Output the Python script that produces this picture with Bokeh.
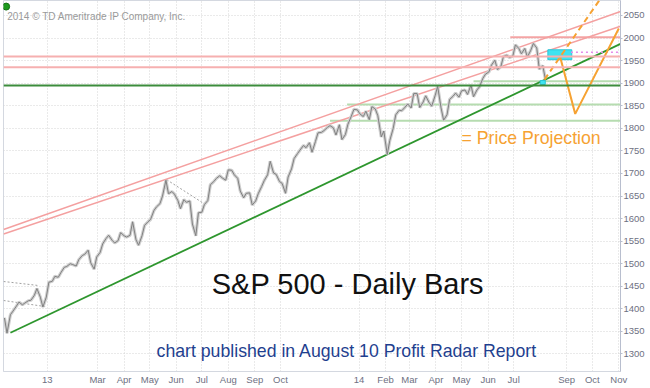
import pandas as pd
from bokeh.plotting import figure
from bokeh.models import Range1d, FixedTicker, Label, Span, ColumnDataSource
from bokeh.embed import file_html
from bokeh.resources import INLINE

# ---------------- data ----------------
# S&P 500 levels, sampled Monday / Thursday of each week (week start listed)
week_starts = pd.date_range("2012-11-12", periods=91, freq="7D")
weekly_pairs = [
    (1380, 1346), (1387, 1395), (1406, 1415), (1409, 1413), (1418, 1419),
    (1430, 1445), (1426, 1404), (1426, 1459),
    (1461, 1472), (1470, 1480), (1492, 1494), (1500, 1498), (1495, 1509),
    (1518, 1521), (1530, 1502), (1488, 1515), (1525, 1544), (1556, 1563),
    (1552, 1546), (1551, 1569), (1562, 1559), (1563, 1593), (1553, 1541),
    (1562, 1585), (1593, 1598), (1618, 1626), (1633, 1650), (1685, 1655),
    (1660, 1654), (1640, 1622), (1642, 1636), (1639, 1588), (1562, 1613),
    (1614, 1631), (1640, 1675), (1682, 1689), (1695, 1690), (1685, 1708),
    (1707, 1697), (1689, 1661), (1646, 1656), (1657, 1630), (1639, 1655),
    (1671, 1684), (1697, 1727), (1701, 1698), (1682, 1678), (1656, 1692),
    (1710, 1733), (1744, 1752), (1762, 1757), (1768, 1747), (1771, 1790),
    (1791, 1795), (1802, 1806), (1801, 1785), (1808, 1775), (1786, 1809),
    (1827, 1842), (1841, 1832),
    (1826, 1838), (1819, 1848), (1843, 1828), (1781, 1794), (1742, 1773),
    (1800, 1830), (1840, 1839), (1847, 1854), (1845, 1877), (1877, 1846),
    (1858, 1872), (1857, 1849), (1872, 1893), (1845, 1818), (1830, 1864),
    (1871, 1878), (1869, 1883), (1885, 1875), (1896, 1870), (1885, 1892),
    (1911, 1920), (1925, 1940), (1951, 1930), (1937, 1959), (1962, 1957),
    (1960, 1985), (1977, 1965), (1977, 1958), (1973, 1988), (1978, 1931),
    (1939, 1910),
]

tick_dates = ["2013-01-01", "2013-03-01", "2013-04-01", "2013-05-01", "2013-06-01",
              "2013-07-01", "2013-08-01", "2013-09-01", "2013-10-01",
              "2014-01-01", "2014-02-01", "2014-03-01", "2014-04-01", "2014-05-01",
              "2014-06-01", "2014-07-01", "2014-09-01", "2014-10-01", "2014-11-01"]
tick_labels = ["13", "Mar", "Apr", "May", "Jun", "Jul", "Aug", "Sep", "Oct",
               "14", "Feb", "Mar", "Apr", "May", "Jun", "Jul", "Sep", "Oct", "Nov"]
y_ticks = [1300, 1350, 1400, 1450, 1500, 1550, 1600, 1650, 1700, 1750,
           1800, 1850, 1900, 1950, 2000, 2050]

# full-width horizontal levels
pink_levels = [1959, 1935.5]
green_level = 1895
# partial horizontal levels (start date, level), running to the right edge
pink_partial = [("2014-06-27", 2001.5)]
lightgreen_partial = [("2014-05-15", 1904.4), ("2013-12-18", 1853), ("2013-11-28", 1817)]
# trend lines (start date, start value, end date, end value)
channel_lines = [("2012-11-11", 1576, "2014-11-03", 2059),
                 ("2012-11-11", 1566, "2014-11-03", 2026)]
green_trend = ("2012-11-19", 1347, "2014-11-03", 1987)
gray_dashed = [("2012-11-11", 1460.6, "2012-12-22", 1451.7),
               ("2012-11-11", 1418.5, "2012-12-30", 1405),
               ("2013-05-21", 1686, "2013-07-07", 1629)]
# projection
target_box = ("2014-08-10", "2014-09-07", 1952, 1974)
small_box = ("2014-08-01", "2014-08-07", 1897, 1906)
magenta_level = ("2014-09-06", 1968.7)
proj_dashed_dates = ["2014-08-06", "2014-10-09"]
proj_dashed_vals = [1908, 2083]
proj_dates = ["2014-08-24", "2014-09-11", "2014-11-01"]
proj_vals = [1961, 1832, 2021]

# ---------------- build ----------------
dates, closes = [], []
for ws, (mon, thu) in zip(week_starts, weekly_pairs):
    dates += [ws, ws + pd.Timedelta(days=3)]
    closes += [mon, thu]

T = pd.Timestamp
X_START = T("2013-01-01") - pd.Timedelta(days=51.1)
X_END = T("2013-01-01") + pd.Timedelta(days=671)


def ms(d):
    return T(d).value / 1e6


p = figure(width=650, height=388, x_axis_type="datetime", y_axis_location="right",
           x_range=Range1d(X_START, X_END), y_range=Range1d(1261.2, 2083.2),
           output_backend="svg", toolbar_location=None,
           min_border_left=3, min_border_top=0, min_border_right=30, min_border_bottom=17)
p.background_fill_color = "white"
p.border_fill_color = "white"
p.outline_line_color = "#d4d8e0"

# axes
p.yaxis.ticker = FixedTicker(ticks=y_ticks)
p.yaxis.major_label_text_font = "Liberation Sans"
p.yaxis.major_label_text_font_size = "9.5px"
p.yaxis.major_label_text_color = "#6e7082"
p.yaxis.axis_line_color = "#b8bece"
p.yaxis.major_tick_out = 2
p.yaxis.major_tick_in = 0
p.yaxis.major_tick_line_color = "#b8bece"
p.yaxis.minor_tick_line_color = None
p.yaxis.minor_tick_out = 0
p.yaxis.major_label_standoff = 1

xt = [ms(d) for d in tick_dates]
p.xaxis.ticker = FixedTicker(ticks=xt)
p.xaxis.major_label_overrides = {t: l for t, l in zip(xt, tick_labels)}
p.xaxis.major_label_text_align = "left"
p.xaxis.major_label_text_font = "Liberation Sans"
p.xaxis.major_label_text_font_size = "9.5px"
p.xaxis.major_label_text_color = "#6e7082"
p.xaxis.axis_line_color = "#d4d8e0"
p.xaxis.major_tick_line_color = None
p.xaxis.major_tick_out = 0
p.xaxis.minor_tick_out = 0
p.xaxis.minor_tick_line_color = None
p.xaxis.major_label_standoff = 2

for g in (p.xgrid, p.ygrid):
    g.grid_line_color = "#d4d4d4"
    g.grid_line_dash = "1 2"

# horizontal levels
for lv in pink_levels:
    p.add_layout(Span(location=lv, dimension="width", line_color="#f6b0b0", line_width=2))
p.add_layout(Span(location=green_level, dimension="width", line_color="#3c8c3c", line_width=2))
for d, lv in pink_partial:
    p.segment(x0=[T(d)], y0=[lv], x1=[X_END], y1=[lv], line_color="#f4a4a4", line_width=2)
for d, lv in lightgreen_partial:
    p.segment(x0=[T(d)], y0=[lv], x1=[X_END], y1=[lv], line_color="#b6dcb0", line_width=2)

# trend lines
for d0, v0, d1, v1 in channel_lines:
    p.segment(x0=[T(d0)], y0=[v0], x1=[T(d1)], y1=[v1], line_color="#f4a0a0", line_width=1.5)
d0, v0, d1, v1 = green_trend
p.segment(x0=[T(d0)], y0=[v0], x1=[T(d1)], y1=[v1], line_color="#2e962e", line_width=1.8)
for d0, v0, d1, v1 in gray_dashed:
    p.segment(x0=[T(d0)], y0=[v0], x1=[T(d1)], y1=[v1], line_color="#a0a0a0",
              line_width=1, line_dash="2 2")

# price series (soft band + darker core to resemble dense daily bars)
src = ColumnDataSource(dict(date=dates, close=closes))
p.line("date", "close", source=src, line_color="#cfcfcf", line_width=3.2)
p.line("date", "close", source=src, line_color="#808080", line_width=1)

# projection boxes and lines
l, r, b, t = target_box
p.quad(left=[T(l)], right=[T(r)], bottom=[b], top=[t], fill_color="#3ee3f1",
       line_color="#2ac6d8", line_width=1)
l, r, b, t = small_box
p.quad(left=[T(l)], right=[T(r)], bottom=[b], top=[t], fill_color="#3ee3f1",
       line_color="#2ac6d8", line_width=1)
d, lv = magenta_level
p.segment(x0=[T(d)], y0=[lv], x1=[X_END], y1=[lv], line_color="#e68ae8",
          line_width=1.5, line_dash="2 3")
p.line([T(d) for d in proj_dashed_dates], proj_dashed_vals, line_color="#f6a232",
       line_width=2, line_dash="6 4")
p.line([T(d) for d in proj_dates], proj_vals, line_color="#f6a232", line_width=2)

# texts
p.scatter([T("2012-11-14")], [2069.7], size=7, fill_color="#1e9a1e", line_color="#137013")
p.add_layout(Label(x=ms(T("2013-01-01") - pd.Timedelta(days=46.8)), y=2048.4,
                   text="2014 \u00a9 TD Ameritrade IP Company, Inc.",
                   text_font="Liberation Sans", text_font_size="10px",
                   text_color="#9a9a9a", text_baseline="alphabetic"))
p.add_layout(Label(x=ms("2013-12-19"), y=1454, text="S&P 500 - Daily Bars",
                   text_font="Liberation Sans", text_font_size="29px",
                   text_color="#111111", text_align="center", text_baseline="alphabetic"))
p.add_layout(Label(x=ms("2013-05-09"), y=1306.6,
                   text="chart published in August 10 Profit Radar Report",
                   text_font="Liberation Sans", text_font_size="17.7px",
                   text_color="#1f3f8f", text_baseline="alphabetic"))
p.add_layout(Label(x=ms("2014-05-01"), y=1777.5, text="= Price Projection",
                   text_font="Liberation Sans", text_font_size="17.7px",
                   text_color="#f6a232", text_baseline="alphabetic"))

open("out.html", "w").write(file_html(p, INLINE))
